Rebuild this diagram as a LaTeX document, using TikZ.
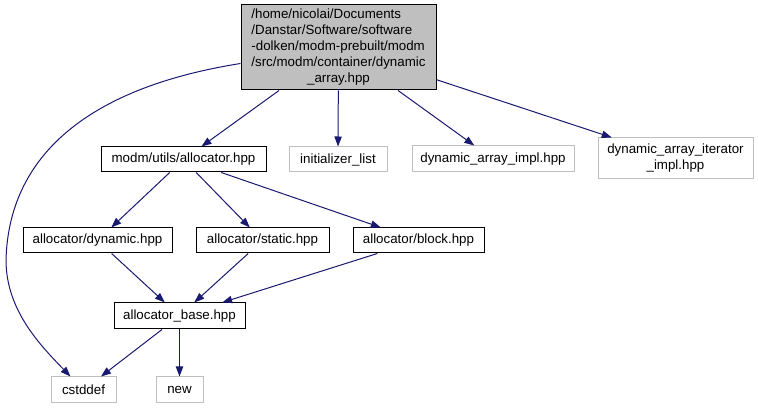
\documentclass[tikz,border=0pt]{standalone}
\usepackage{fontspec}
\setmainfont{Liberation Sans}
\usetikzlibrary{arrows.meta}
\definecolor{edgeblue}{HTML}{191970}
\definecolor{sysgray}{HTML}{BFBFBF}
\newlength{\pxu}
\setlength{\pxu}{0.75pt}

\begin{document}
\begin{tikzpicture}[x=0.75pt,y=-0.75pt,
  hdr/.style={draw=black,line width=0.75pt,inner sep=0pt,font=\fontsize{10}{12}\selectfont},
  localhdr/.style={hdr},
  syshdr/.style={hdr,draw=sysgray},
  dep/.style={draw=edgeblue,line width=0.75pt,-{Triangle[length=7.5pt,width=5.5pt]}}]

% ---------------- page ----------------
\useasboundingbox (0,0) rectangle (758,409);

% ---------------- root file ----------------
\node[localhdr,fill=sysgray,minimum width=195\pxu,minimum height=85\pxu] (root) at (338.5,47.5)
  {\begin{tabular}{@{}l@{}}/home/nicolai/Documents\\/Danstar/Software/software\\-dolken/modm-prebuilt/modm\\/src/modm/container/dynamic\\\multicolumn{1}{@{}c@{}}{\_array.hpp}\end{tabular}};

% ---------------- first level ----------------
\node[localhdr,minimum width=165\pxu,minimum height=25\pxu] (alloc) at (183.5,159.5) {modm/utils/allocator.hpp};
\node[syshdr,minimum width=98\pxu,minimum height=25\pxu] (initlist) at (338,159.5) {initializer\_list};
\node[syshdr,minimum width=162\pxu,minimum height=26\pxu] (arrimpl) at (493,159) {dynamic\_array\_impl.hpp};
\node[syshdr,minimum width=155\pxu,minimum height=41\pxu,align=center] (iterimpl) at (675.5,158.5)
  {dynamic\_array\_iterator\\\_impl.hpp};

% ---------------- allocator variants ----------------
\node[localhdr,minimum width=149\pxu,minimum height=25\pxu] (allocdyn) at (97.5,240.5) {allocator/dynamic.hpp};
\node[localhdr,minimum width=133\pxu,minimum height=25\pxu] (allocstat) at (262.5,240.5) {allocator/static.hpp};
\node[localhdr,minimum width=131\pxu,minimum height=25\pxu] (allocblock) at (418.5,240.5) {allocator/block.hpp};

% ---------------- base and system headers ----------------
\node[localhdr,minimum width=131\pxu,minimum height=26\pxu] (allocbase) at (179.5,316) {allocator\_base.hpp};
\node[syshdr,minimum width=65\pxu,minimum height=26\pxu] (cstddef) at (83.5,390) {cstddef};
\node[syshdr,minimum width=47\pxu,minimum height=26\pxu] (new) at (179.5,390) {new};

% ---------------- include edges ----------------
\draw[dep] (root) -- (alloc);
\draw[dep] (root) -- (initlist);
\draw[dep] (root) -- (arrimpl);
\draw[dep] (root) -- (iterimpl);

% long bend round the left side down to cstddef
\coordinate (bend) at (6,260);
\draw[dep] (root) .. controls (170,75) and (10,110) .. (bend)
  .. controls (6,310) and (40,345) .. (cstddef);

\draw[dep] (alloc) -- (allocdyn);
\draw[dep] (alloc) -- (allocstat);
\draw[dep] (alloc) -- (allocblock);

\draw[dep] (allocdyn) -- (allocbase);
\draw[dep] (allocstat) -- (allocbase);
\draw[dep] (allocblock) -- (allocbase);

\draw[dep] (allocbase) -- (cstddef);
\draw[dep] (allocbase) -- (new);

\end{tikzpicture}
\end{document}
